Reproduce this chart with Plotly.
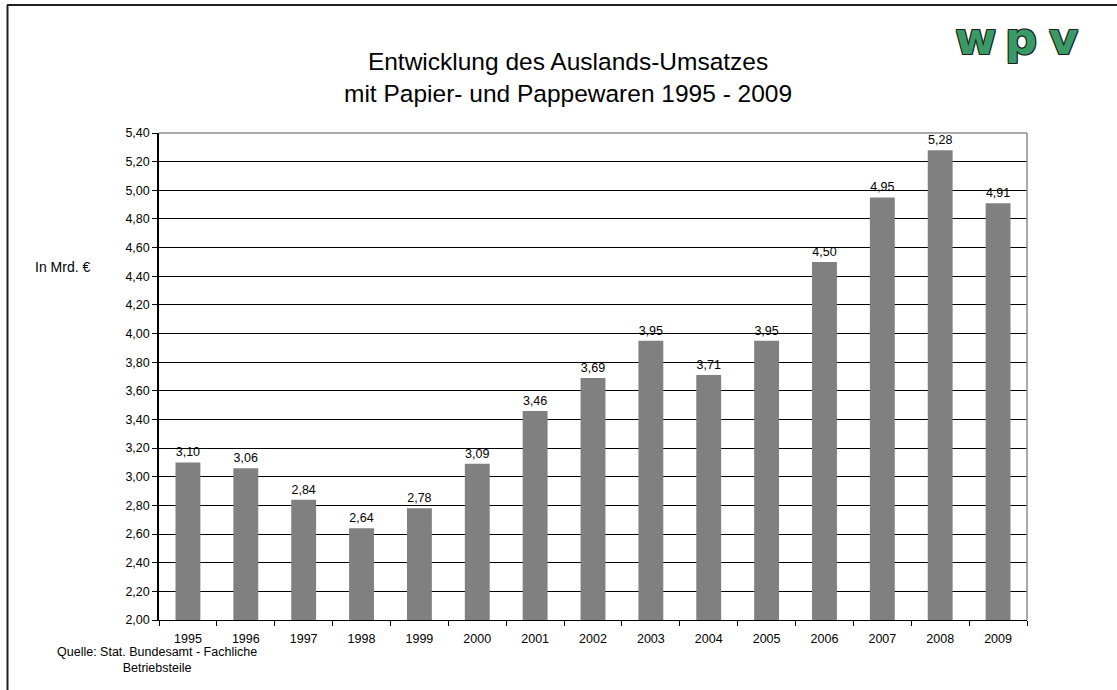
import plotly.graph_objects as go

years = ["1995", "1996", "1997", "1998", "1999", "2000", "2001", "2002",
         "2003", "2004", "2005", "2006", "2007", "2008", "2009"]
umsatz = [3.10, 3.06, 2.84, 2.64, 2.78, 3.09, 3.46, 3.69,
          3.95, 3.71, 3.95, 4.50, 4.95, 5.28, 4.91]
y_ticks = [2.00, 2.20, 2.40, 2.60, 2.80, 3.00, 3.20, 3.40, 3.60, 3.80,
           4.00, 4.20, 4.40, 4.60, 4.80, 5.00, 5.20, 5.40]

title_lines = ["Entwicklung des Auslands-Umsatzes", "mit Papier- und Pappewaren 1995 - 2009"]
y_title = "In Mrd. €"
source_lines = ["Quelle: Stat. Bundesamt - Fachliche", "Betriebsteile"]
logo_letters = ["w", "p", "v"]

W, H = 1117, 690
L, R, T, B = 159, 1027, 133, 620
pw, ph = R - L, B - T


def px(x):
    return (x - L) / pw


def py(y):
    return (B - y) / ph


FONT = "Liberation Sans, Arial, sans-serif"

fig = go.Figure()
fig.add_trace(go.Bar(
    x=years, y=umsatz,
    marker=dict(color="#808080", line=dict(width=0)),
    width=0.43,
    text=umsatz,
    texttemplate="%{y:.2f}",
    textposition="outside",
    textfont=dict(family=FONT, size=12.5, color="#000000"),
    cliponaxis=False,
    hoverinfo="x+y",
))

annotations = [
    dict(text="<br>".join(title_lines), x=px(568), y=py(77), xref="paper", yref="paper",
         showarrow=False, font=dict(family=FONT, size=24.5, color="#000000"),
         xanchor="center", yanchor="middle", align="center"),
    dict(text=y_title, x=px(33), y=py(267), xref="paper", yref="paper",
         showarrow=False, font=dict(family=FONT, size=14, color="#000000"),
         xanchor="left", yanchor="middle"),
    dict(text="<br>".join(source_lines), x=px(157), y=py(660), xref="paper", yref="paper",
         showarrow=False, font=dict(family=FONT, size=12.5, color="#000000"),
         xanchor="center", yanchor="middle", align="center"),
]
outline = "-1px -1px 0 #1e1e1e, 1px -1px 0 #1e1e1e, -1px 1px 0 #1e1e1e, 1px 1px 0 #1e1e1e"
for letter, cx in zip(logo_letters, [976, 1021, 1063]):
    annotations.append(dict(
        text="<b>%s</b>" % letter, x=px(cx), y=py(39), xref="paper", yref="paper",
        showarrow=False, xanchor="center", yanchor="middle",
        font=dict(family="DejaVu Sans, sans-serif", size=45, color="#3a9a66", shadow=outline),
    ))

shapes = [
    # page frame
    dict(type="line", xref="paper", yref="paper", x0=px(7), x1=px(W + 5), y0=py(5), y1=py(5),
         line=dict(color="#202020", width=2)),
    dict(type="line", xref="paper", yref="paper", x0=px(7.5), x1=px(7.5), y0=py(5), y1=py(H + 5),
         line=dict(color="#202020", width=2)),
    # plot area top/right border
    dict(type="line", xref="paper", yref="paper", x0=0, x1=1, y0=1, y1=1,
         line=dict(color="#8c8c8c", width=1.5), layer="above"),
    dict(type="line", xref="paper", yref="paper", x0=1, x1=1, y0=0, y1=1,
         line=dict(color="#8c8c8c", width=1.5), layer="above"),
]

fig.update_layout(
    width=W, height=H,
    margin=dict(l=L, r=W - R, t=T, b=H - B, pad=0),
    paper_bgcolor="white", plot_bgcolor="white",
    separators=",.",
    showlegend=False,
    font=dict(family=FONT, color="#000000"),
    annotations=annotations,
    shapes=shapes,
    xaxis=dict(
        type="category", categoryorder="array", categoryarray=years,
        showgrid=False, showline=True, linecolor="#000000", linewidth=1,
        ticks="outside", ticklen=5, tickcolor="#000000", tickson="boundaries",
        tickfont=dict(family=FONT, size=12.5, color="#000000"),
        ticklabelstandoff=7,
        zeroline=False,
    ),
    yaxis=dict(
        range=[2.0, 5.4], tickvals=y_ticks, tickformat=".2f",
        showgrid=True, gridcolor="#000000", gridwidth=1,
        showline=True, linecolor="#000000", linewidth=1.5,
        ticks="outside", ticklen=5, tickcolor="#000000",
        tickfont=dict(family=FONT, size=12.5, color="#000000"),
        zeroline=False,
    ),
    bargap=0.57,
)

fig.write_html(
    "out.html",
    config={"displayModeBar": False},
    post_script="document.body.style.margin='0';document.body.style.overflow='hidden';",
)
